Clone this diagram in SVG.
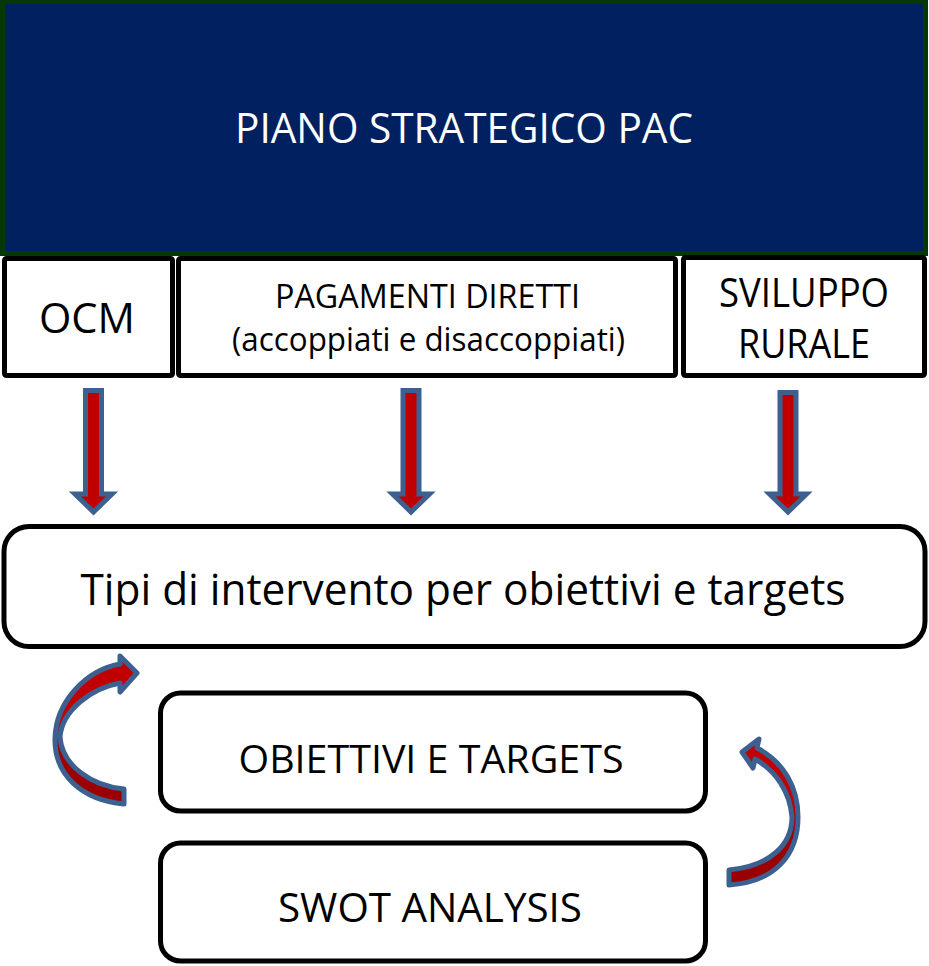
<svg xmlns="http://www.w3.org/2000/svg" width="929" height="966" viewBox="0 0 929 966">
<style>
.box{fill:#ffffff;stroke:#000000;stroke-width:5}
.t{font-family:"Open Sans","Liberation Sans",sans-serif;fill:#000000;text-anchor:middle}
.arr{fill:#C00000;stroke:#3C6190;stroke-width:5;stroke-linejoin:miter}
.carr{fill:url(#rg);stroke:#3C6190;stroke-width:5;stroke-linejoin:round}
</style>
<defs>
<linearGradient id="rg" x1="0" y1="0" x2="0" y2="1">
<stop offset="0" stop-color="#C00000"/>
<stop offset="0.5" stop-color="#C00000"/>
<stop offset="0.55" stop-color="#A00000"/>
<stop offset="1" stop-color="#9A0000"/>
</linearGradient>
</defs>
<g id="piano">
<rect x="2.5" y="1.5" width="923" height="252" fill="#002060" stroke="#063806" stroke-width="5"/>
<text class="t" x="464" y="143" font-size="42" fill="#ffffff" style="fill:#ffffff" textLength="458" lengthAdjust="spacingAndGlyphs">PIANO STRATEGICO PAC</text>
</g>
<g id="ocm">
<rect class="box" x="4.5" y="258.5" width="168" height="117" rx="2"/>
<text class="t" x="87" y="333" font-size="42" textLength="96" lengthAdjust="spacingAndGlyphs">OCM</text>
</g>
<g id="pagamenti">
<rect class="box" x="178.5" y="258.5" width="497" height="117" rx="2"/>
<text class="t" x="427.5" y="308" font-size="32" textLength="305" lengthAdjust="spacingAndGlyphs">PAGAMENTI DIRETTI</text>
<text class="t" x="428.5" y="351" font-size="32" textLength="393" lengthAdjust="spacingAndGlyphs">(accoppiati e disaccoppiati)</text>
</g>
<g id="sviluppo">
<rect class="box" x="683.5" y="257.5" width="241" height="118" rx="2"/>
<text class="t" x="804" y="307" font-size="40" textLength="170" lengthAdjust="spacingAndGlyphs">SVILUPPO</text>
<text class="t" x="804" y="358" font-size="40" textLength="132" lengthAdjust="spacingAndGlyphs">RURALE</text>
</g>
<g id="tipi">
<rect class="box" x="4" y="526.5" width="921" height="120" rx="25"/>
<text class="t" x="463" y="605" font-size="44" textLength="765" lengthAdjust="spacingAndGlyphs">Tipi di intervento per obiettivi e targets</text>
</g>
<g id="obiettivi">
<rect class="box" x="160.5" y="693" width="545" height="118" rx="20"/>
<text class="t" x="431" y="773" font-size="39" textLength="385" lengthAdjust="spacingAndGlyphs">OBIETTIVI E TARGETS</text>
</g>
<g id="swot">
<rect class="box" x="160.5" y="843" width="545" height="118" rx="20"/>
<text class="t" x="430" y="922" font-size="40" textLength="304" lengthAdjust="spacingAndGlyphs">SWOT ANALYSIS</text>
</g>
<g id="connectors">
<path class="arr" d="M85.5,390.5 H101.5 V494 H112 L93.5,512 L75,494 H85.5 Z"/>
<path class="arr" d="M403,390.5 H419 V494 H429.5 L411,512 L392.5,494 H403 Z"/>
<path class="arr" d="M780,392.5 H796 V494 H806.5 L788,512 L769.5,494 H780 Z"/>
<path class="carr" d="M124,804 C82,800 54,775 55,738 C56,702 86,670 120,664 L120,656 L137,673 L120,692 L120,683 C92,688 62,710 60,737 C62,766 92,786 124,789 Z"/>
<path class="carr" d="M729,885 C775,882 798,855 798,817 C798,788 784,762 757,748 L759,739 L742,752 L753,768 L755,759 C776,771 790,792 792,817 C792,845 770,866 729,870 Z"/>
</g>
</svg>
